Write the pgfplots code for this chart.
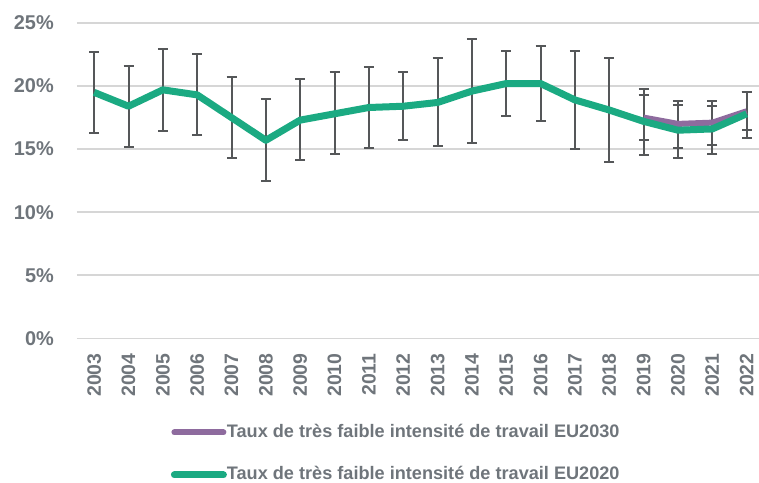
\documentclass[border=0pt]{standalone}
\usepackage{pgfplots}
\pgfplotsset{compat=1.18}
\usepackage{pgfplotstable}
\usepackage{fontspec}
\setmainfont{Liberation Sans}
\definecolor{cgreen}{HTML}{1BAA82}
\definecolor{cpurple}{HTML}{8E6B9E}
\definecolor{cerr}{HTML}{555759}
\definecolor{ctext}{HTML}{6F757B}
\definecolor{cgrid}{HTML}{D6D6D6}

% x = year index (0 = 2003), y = value (%), ep = error plus, em = error minus
\pgfplotstableread{
x y ep em
0 19.5 3.2 3.2
1 18.4 3.2 3.2
2 19.7 3.25 3.25
3 19.3 3.25 3.2
4 17.5 3.25 3.2
5 15.7 3.25 3.2
6 17.3 3.25 3.2
7 17.8 3.3 3.2
8 18.3 3.2 3.2
9 18.4 2.7 2.7
10 18.7 3.5 3.45
11 19.6 4.1 4.1
12 20.2 2.6 2.6
13 20.2 3.0 3.0
14 18.9 3.9 3.9
15 18.1 4.1 4.1
16 17.2 2.6 2.7
17 16.5 2.3 2.2
18 16.6 2.25 2.0
19 17.8 1.75 1.9
}\tableA

\pgfplotstableread{
x y ep em
16 17.5 1.8 1.8
17 17.0 1.5 1.9
18 17.1 1.3 1.8
19 18.0 1.5 1.5
}\tableB

\begin{document}
\begin{tikzpicture}
\path[use as bounding box] (-77bp,-144.7bp) rectangle (682bp,338.3bp);
\begin{axis}[
  at={(0,0)}, anchor=south west,
  scale only axis,
  width=682bp, height=315.3bp,
  xmin=-0.5, xmax=19.36,
  ymin=0, ymax=25,
  axis line style={draw=none},
  major tick length=0pt,
  ytick={0,5,10,15,20,25},
  yticklabels={0\%,5\%,10\%,15\%,20\%,25\%},
  xtick={0,...,19},
  xticklabels={2003,2004,2005,2006,2007,2008,2009,2010,2011,2012,2013,2014,2015,2016,2017,2018,2019,2020,2021,2022},
  ymajorgrids,
  grid style={draw=cgrid, line width=1.6bp},
  yticklabel style={font=\fontsize{20}{24}\selectfont\bfseries, text=ctext, anchor=east, inner sep=0pt, xshift=-23bp},
  xticklabel style={font=\fontsize{19.5}{24}\selectfont\bfseries, text=ctext, rotate=90, anchor=east, inner sep=0pt, xshift=-15bp},
  clip=false,
  legend cell align=left,
  legend style={draw=none, fill=none, inner sep=0pt,
    at={(0.1374,-0.366)}, anchor=west,
    font=\fontsize{18.2}{22}\selectfont\bfseries, text=ctext,
    nodes={inner sep=0pt, text height=14bp, text depth=4bp},
    row sep=24.5bp},
  legend image code/.code={\draw[#1, line cap=round] (0bp,0bp) -- (49bp,0bp);},
]
% error bars first (drawn below lines)
\addplot[forget plot, draw=none, mark=none,
  error bars/.cd, y dir=both, y explicit,
  error bar style={draw=cerr, line width=2bp},
  error mark options={draw=cerr, rotate=90, mark size=5bp, line width=2bp}]
  table[x=x, y=y, y error plus=ep, y error minus=em] {\tableA};
\addplot[forget plot, draw=none, mark=none,
  error bars/.cd, y dir=both, y explicit,
  error bar style={draw=cerr, line width=2bp},
  error mark options={draw=cerr, rotate=90, mark size=5bp, line width=2bp}]
  table[x=x, y=y, y error plus=ep, y error minus=em] {\tableB};
% lines
\addplot[draw=cpurple, line width=6bp, line join=round, mark=none]
  table[x=x, y=y] {\tableB};
\addlegendentry{Taux de très faible intensité de travail EU2030}
\addplot[draw=cgreen, line width=7bp, line join=round, mark=none]
  table[x=x, y=y] {\tableA};
\addlegendentry{Taux de très faible intensité de travail EU2020}
\end{axis}
\end{tikzpicture}
\end{document}
